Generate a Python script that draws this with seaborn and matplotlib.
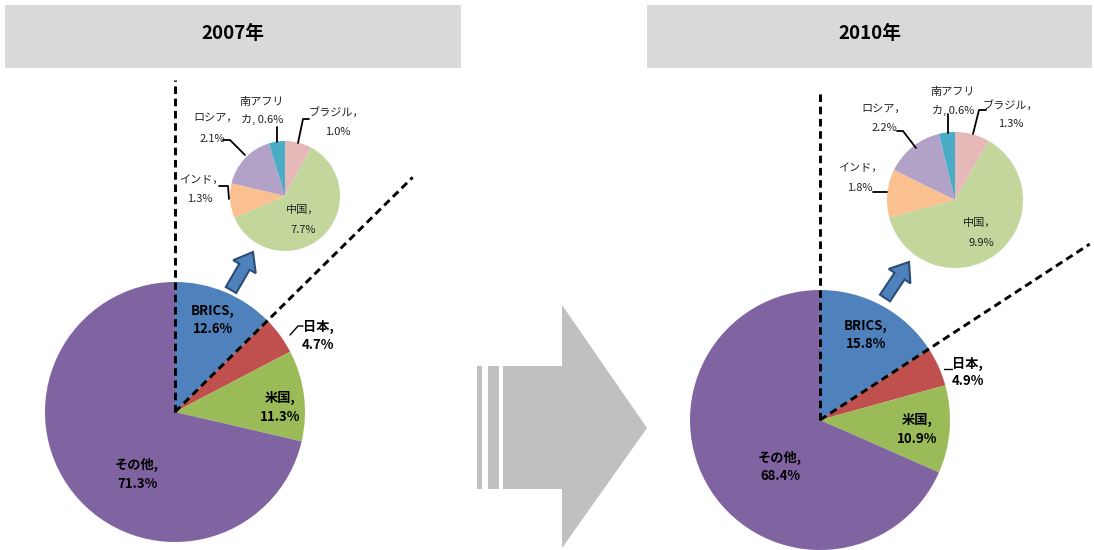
import numpy as np
import matplotlib
matplotlib.use("Agg")
import matplotlib.pyplot as plt
from matplotlib.patches import Rectangle, Polygon, FancyArrow
import seaborn as sns

# ---------------- data ----------------
years = ["2007年", "2010年"]
main_labels = ["BRICS", "日本", "米国", "その他"]
main_2007 = [12.6, 4.7, 11.3, 71.3]
main_2010 = [15.8, 4.9, 10.9, 68.4]
brics_labels = ["ブラジル", "中国", "インド", "ロシア", "南アフリカ"]
brics_2007 = [1.0, 7.7, 1.3, 2.1, 0.6]
brics_2010 = [1.3, 9.9, 1.8, 2.2, 0.6]

main_colors = ["#4f81bd", "#c0504d", "#9bbb59", "#8064a2"]
brics_colors = ["#e6b9b8", "#c3d69b", "#fac090", "#b3a2c7", "#4bacc6"]

sns.set_theme(style="white")
plt.rcParams["font.family"] = ["Noto Sans CJK JP", "DejaVu Sans"]

W, H = 1094, 550
fig = plt.figure(figsize=(W / 100, H / 100), dpi=100)
ax = fig.add_axes([0, 0, 1, 1])

# layout for each panel
panels = [
    dict(year=years[0], main=main_2007, brics=brics_2007,
         box=(5, 5, 456, 63), big_c=(175, 412), big_r=130,
         small_c=(285, 196), small_r=55, vtop=80, diag_len=334,
         arrow=((231, 290), (253, 252)),
         main_pos=[(213, 311, 213, 329), (318, 327, 318, 345),
                   (280, 398, 280, 417), (137, 465, 137, 484)],
         jp_leader=[(290, 335), (298, 326), (303, 326)],
         small_txt=[("ブラジル，", 336, 113), ("1.0%", 338, 132),
                    ("中国，", 303, 210), ("7.7%", 303, 230),
                    ("インド，", 201, 180), ("1.3%", 200, 199),
                    ("ロシア，", 216, 118), ("2.1%", 212, 139),
                    ("南アフリ", 262, 102), ("カ, 0.6%", 262, 119)],
         leaders=[[(298, 143), (303, 119), (309, 119)],
                  [(229, 199), (228, 186), (219, 186)],
                  [(245, 155), (230, 140), (223, 140)],
                  [(277, 142), (277, 127)]]),
    dict(year=years[1], main=main_2010, brics=brics_2010,
         box=(647, 5, 445, 63), big_c=(820, 420), big_r=130,
         small_c=(955, 200), small_r=68, vtop=92, diag_len=322,
         arrow=((885, 298), (909, 262)),
         main_pos=[(866, 326, 866, 344), (967, 364, 968, 381),
                   (917, 420, 917, 439), (780, 458, 780, 476)],
         jp_leader=[(944, 369), (952, 369)],
         small_txt=[("ブラジル，", 1010, 106), ("1.3%", 1011, 124),
                    ("中国，", 980, 223), ("9.9%", 981, 243),
                    ("インド，", 860, 168), ("1.8%", 860, 188),
                    ("ロシア，", 884, 109), ("2.2%", 884, 128),
                    ("南アフリ", 953, 92), ("カ, 0.6%", 953, 110)],
         leaders=[[(973, 134), (979, 110), (986, 110)],
                  [(887, 192), (873, 192)],
                  [(916, 148), (903, 131), (897, 131)],
                  [(948, 133), (948, 114)]]),
]

for p in panels:
    bx, by, bw, bh = p["box"]
    ax.add_patch(Rectangle((bx, by), bw, bh, facecolor="#d9d9d9",
                           edgecolor="none", zorder=0))
    ax.text(bx + bw / 2, by + bh / 2 - 3, p["year"], ha="center", va="center",
            fontsize=13.5, fontweight="bold", color="black")

    # big pie (y axis inverted: startangle -90 = top, counterclock -> clockwise on screen)
    ax.pie(p["main"], colors=main_colors, startangle=-90, counterclock=True,
           center=p["big_c"], radius=p["big_r"], frame=True,
           wedgeprops=dict(linewidth=0))
    ax.pie(p["brics"], colors=brics_colors, startangle=-90, counterclock=True,
           center=p["small_c"], radius=p["small_r"], frame=True,
           wedgeprops=dict(linewidth=0))

    cx, cy = p["big_c"]
    # dashed vertical line and dashed line along BRICS boundary
    dash = (0, (2.6, 1.6))
    ax.plot([cx, cx], [cy, p["vtop"]], ls=dash, color="black", lw=2.1, zorder=5)
    ang = np.deg2rad(90 - p["main"][0] * 3.6)
    L = p["diag_len"]
    ax.plot([cx, cx + L * np.cos(ang)], [cy, cy - L * np.sin(ang)],
            ls=dash, color="black", lw=2.1, zorder=5)

    # main labels
    for lab, val, (x1, y1, x2, y2) in zip(main_labels, p["main"], p["main_pos"]):
        ax.text(x1, y1, f"{lab},", ha="center", va="center", fontsize=9.5,
                fontweight="bold", color="black", zorder=6)
        ax.text(x2, y2, f"{val:.1f}%", ha="center", va="center", fontsize=9.5,
                fontweight="bold", color="black", zorder=6)
    xs, ys = zip(*p["jp_leader"])
    ax.plot(xs, ys, color="black", lw=1, zorder=6)

    # small pie labels
    for t, x, y in p["small_txt"]:
        ax.text(x, y, t, ha="center", va="center", fontsize=8,
                color="#222222", zorder=6)
    for ln in p["leaders"]:
        xs, ys = zip(*ln)
        ax.plot(xs, ys, color="black", lw=1.3, zorder=6)

    # blue arrow
    (x0, y0), (x1, y1) = p["arrow"]
    ax.add_patch(FancyArrow(x0, y0, x1 - x0, y1 - y0, width=12, head_width=26,
                            head_length=17, length_includes_head=True,
                            facecolor="#4f81bd", edgecolor="#2c4d75",
                            linewidth=1.5, zorder=7))

# big gray arrow in the middle
gray = "#c0c0c0"
ax.add_patch(Rectangle((477, 366), 5, 123, facecolor=gray, edgecolor="none"))
ax.add_patch(Rectangle((488, 366), 11, 123, facecolor=gray, edgecolor="none"))
ax.add_patch(Polygon([(503, 366), (562, 366), (562, 305), (647, 428),
                      (562, 548), (562, 489), (503, 489)],
                     closed=True, facecolor=gray, edgecolor="none"))

ax.set_xlim(0, W)
ax.set_ylim(H, 0)
ax.set_aspect("auto")
ax.axis("off")
fig.savefig("out.png", dpi=100)
